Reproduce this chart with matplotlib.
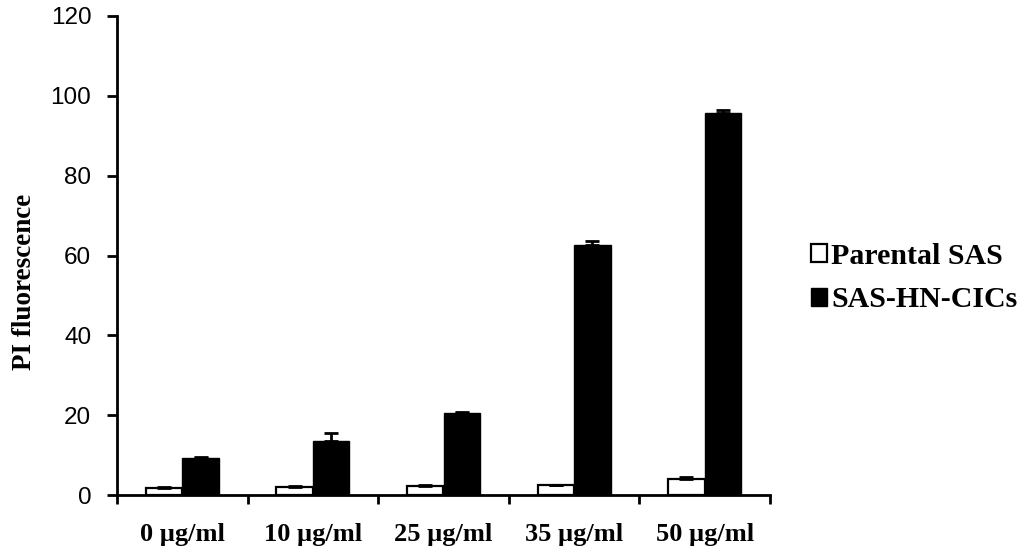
import matplotlib
matplotlib.use("Agg")
import matplotlib.pyplot as plt
from matplotlib.patches import Patch
import numpy as np

categories = ["0 µg/ml", "10 µg/ml", "25 µg/ml", "35 µg/ml", "50 µg/ml"]
parental = [1.7, 2.0, 2.2, 2.4, 4.1]
parental_err = [0.2, 0.2, 0.2, 0.2, 0.3]
cics = [9.3, 13.5, 20.6, 62.6, 95.8]
cics_err = [0.2, 2.1, 0.3, 1.0, 0.6]
yticks = [0, 20, 40, 60, 80, 100, 120]

fig = plt.figure(figsize=(10.26, 5.49), dpi=100)
ax = fig.add_axes([117/1026, 1-495/549, (770-117)/1026, (495-16)/549])

x = np.arange(len(categories))
w = 0.28
ekw = dict(elinewidth=2, capthick=2, ecolor="black")
ax.bar(x - 0.14, parental, w, color="white", edgecolor="black", linewidth=1.6,
       yerr=[np.zeros(5), parental_err], capsize=5, error_kw=ekw, label="Parental SAS", zorder=2)
ax.bar(x + 0.14, cics, w, color="black", edgecolor="black", linewidth=1.0,
       yerr=[np.zeros(5), cics_err], capsize=5, error_kw=ekw, label="SAS-HN-CICs", zorder=2)

ax.set_xlim(-0.5, len(categories) - 0.5)
ax.set_ylim(0, 120)
ax.set_yticks(yticks)
ax.set_yticklabels([str(t) for t in yticks], fontfamily="Liberation Sans", fontsize=17.5)

ax.set_xticks(x)
ax.set_xticklabels(categories, fontfamily="Liberation Serif", fontweight="bold", fontsize=19)
ax.set_xticks(np.arange(len(categories) + 1) - 0.5, minor=True)
ax.tick_params(axis="x", which="major", length=0, pad=20)
ax.tick_params(axis="x", which="minor", length=6.5, width=2, direction="out")
ax.tick_params(axis="y", length=7.5, width=2, direction="out", pad=11)

for s in ["top", "right"]:
    ax.spines[s].set_visible(False)
for s in ["left", "bottom"]:
    ax.spines[s].set_linewidth(2)

ax.set_ylabel("PI fluorescence", fontfamily="Liberation Serif", fontweight="bold", fontsize=19.5)
ax.yaxis.set_label_coords(-0.122, 0.445)

handles = [Patch(facecolor="white", edgecolor="black", linewidth=1.6),
           Patch(facecolor="black", edgecolor="black")]
fig.legend(handles, ["Parental SAS", "SAS-HN-CICs"], loc="center left",
           bbox_to_anchor=(811/1026, 1-278/549), bbox_transform=fig.transFigure,
           frameon=False, borderpad=0, borderaxespad=0, handlelength=0.55, handleheight=0.55,
           handletextpad=0.12, labelspacing=0.55,
           prop=dict(family="Liberation Serif", weight="bold", size=21.5))

fig.savefig("out.png", dpi=100)
